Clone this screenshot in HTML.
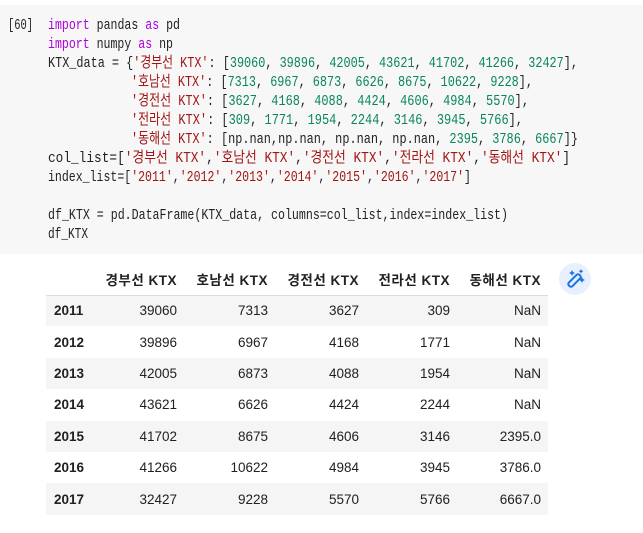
<!DOCTYPE html>
<html><head><meta charset="utf-8">
<style>
body{margin:0;width:643px;height:533px;background:#fff;overflow:hidden;position:relative;font-family:"Liberation Sans","Noto Sans CJK KR",sans-serif}
#cell{position:absolute;left:0;top:5px;width:643px;height:249px;background:#f7f7f7}
svg{position:absolute;left:0;top:0}
.k{fill:#af00db}.s{fill:#a31515}.n{fill:#098658}
table{position:absolute;left:46px;top:264px;width:501px;table-layout:fixed;border-collapse:collapse;font-size:13.5px;color:#212121}
th,td{height:31.4px;padding:0;text-align:right;box-sizing:border-box}
thead th{height:31px;font-weight:bold;border-bottom:1px solid #ddd;letter-spacing:0.5px;vertical-align:middle}
tbody tr:nth-child(odd){background:#f5f5f5}
tbody th{text-align:left;padding-left:8px;font-weight:bold}
.c0{width:40px}.c{width:91px}.cl{width:98px;padding-right:7px}
td:last-child{padding-right:7px}
#wand{position:absolute;left:559px;top:263px;width:32px;height:32px;border-radius:50%;background:#e8f0fe}
</style></head><body>
<div id="cell"></div>
<svg width="643" height="260" font-family="'Liberation Mono','Noto Sans CJK KR',monospace" font-size="15" fill="#222">
<text x="8" y="29" textLength="25" lengthAdjust="spacingAndGlyphs">[60]</text>
<text x="48" y="29" textLength="132" lengthAdjust="spacingAndGlyphs"><tspan class="k">import</tspan> pandas <tspan class="k">as</tspan> pd</text>
<text x="48" y="48" textLength="125" lengthAdjust="spacingAndGlyphs"><tspan class="k">import</tspan> numpy <tspan class="k">as</tspan> np</text>
<text x="48" y="67" textLength="530" lengthAdjust="spacingAndGlyphs">KTX_data = {<tspan class="s">'경부선 KTX'</tspan>: [<tspan class="n">39060</tspan>, <tspan class="n">39896</tspan>, <tspan class="n">42005</tspan>, <tspan class="n">43621</tspan>, <tspan class="n">41702</tspan>, <tspan class="n">41266</tspan>, <tspan class="n">32427</tspan>],</text>
<text x="131" y="86" textLength="402" lengthAdjust="spacingAndGlyphs"><tspan class="s">'호남선 KTX'</tspan>: [<tspan class="n">7313</tspan>, <tspan class="n">6967</tspan>, <tspan class="n">6873</tspan>, <tspan class="n">6626</tspan>, <tspan class="n">8675</tspan>, <tspan class="n">10622</tspan>, <tspan class="n">9228</tspan>],</text>
<text x="131" y="105" textLength="398" lengthAdjust="spacingAndGlyphs"><tspan class="s">'경전선 KTX'</tspan>: [<tspan class="n">3627</tspan>, <tspan class="n">4168</tspan>, <tspan class="n">4088</tspan>, <tspan class="n">4424</tspan>, <tspan class="n">4606</tspan>, <tspan class="n">4984</tspan>, <tspan class="n">5570</tspan>],</text>
<text x="131" y="124" textLength="392" lengthAdjust="spacingAndGlyphs"><tspan class="s">'전라선 KTX'</tspan>: [<tspan class="n">309</tspan>, <tspan class="n">1771</tspan>, <tspan class="n">1954</tspan>, <tspan class="n">2244</tspan>, <tspan class="n">3146</tspan>, <tspan class="n">3945</tspan>, <tspan class="n">5766</tspan>],</text>
<text x="131" y="143" textLength="447" lengthAdjust="spacingAndGlyphs"><tspan class="s">'동해선 KTX'</tspan>: [np.nan,np.nan, np.nan, np.nan, <tspan class="n">2395</tspan>, <tspan class="n">3786</tspan>, <tspan class="n">6667</tspan>]}</text>
<text x="48" y="162" textLength="522" lengthAdjust="spacingAndGlyphs">col_list=[<tspan class="s">'경부선 KTX'</tspan>,<tspan class="s">'호남선 KTX'</tspan>,<tspan class="s">'경전선 KTX'</tspan>,<tspan class="s">'전라선 KTX'</tspan>,<tspan class="s">'동해선 KTX'</tspan>]</text>
<text x="48" y="181" textLength="423" lengthAdjust="spacingAndGlyphs">index_list=[<tspan class="s">'2011'</tspan>,<tspan class="s">'2012'</tspan>,<tspan class="s">'2013'</tspan>,<tspan class="s">'2014'</tspan>,<tspan class="s">'2015'</tspan>,<tspan class="s">'2016'</tspan>,<tspan class="s">'2017'</tspan>]</text>
<text x="48" y="219" textLength="460" lengthAdjust="spacingAndGlyphs">df_KTX = pd.DataFrame(KTX_data, columns=col_list,index=index_list)</text>
<text x="48" y="238" textLength="40" lengthAdjust="spacingAndGlyphs">df_KTX</text>
</svg>
<table>
<thead><tr><th class="c0"></th><th class="c">경부선 KTX</th><th class="c">호남선 KTX</th><th class="c">경전선 KTX</th><th class="c">전라선 KTX</th><th class="cl">동해선 KTX</th></tr></thead>
<tbody>
<tr><th>2011</th><td>39060</td><td>7313</td><td>3627</td><td>309</td><td>NaN</td></tr>
<tr><th>2012</th><td>39896</td><td>6967</td><td>4168</td><td>1771</td><td>NaN</td></tr>
<tr><th>2013</th><td>42005</td><td>6873</td><td>4088</td><td>1954</td><td>NaN</td></tr>
<tr><th>2014</th><td>43621</td><td>6626</td><td>4424</td><td>2244</td><td>NaN</td></tr>
<tr><th>2015</th><td>41702</td><td>8675</td><td>4606</td><td>3146</td><td>2395.0</td></tr>
<tr><th>2016</th><td>41266</td><td>10622</td><td>4984</td><td>3945</td><td>3786.0</td></tr>
<tr><th>2017</th><td>32427</td><td>9228</td><td>5570</td><td>5766</td><td>6667.0</td></tr>
</tbody></table>
<div id="wand">
<svg width="32" height="32" viewBox="0 0 32 32"><rect x="13" y="10" width="5" height="15" rx="2" transform="rotate(45 15.5 17.5)" fill="none" stroke="#1a73e8" stroke-width="2"/><path d="M13 7l1 2 2 1-2 1-1 2-1-2-2-1 2-1z M22 6l.8 1.5 1.5.8-1.5.8-.8 1.5-.8-1.5-1.5-.8 1.5-.8z M23 14l1 2 2 1-2 1-1 2-1-2-2-1 2-1z" fill="#1a73e8"/></svg>
</div>
</body></html>
